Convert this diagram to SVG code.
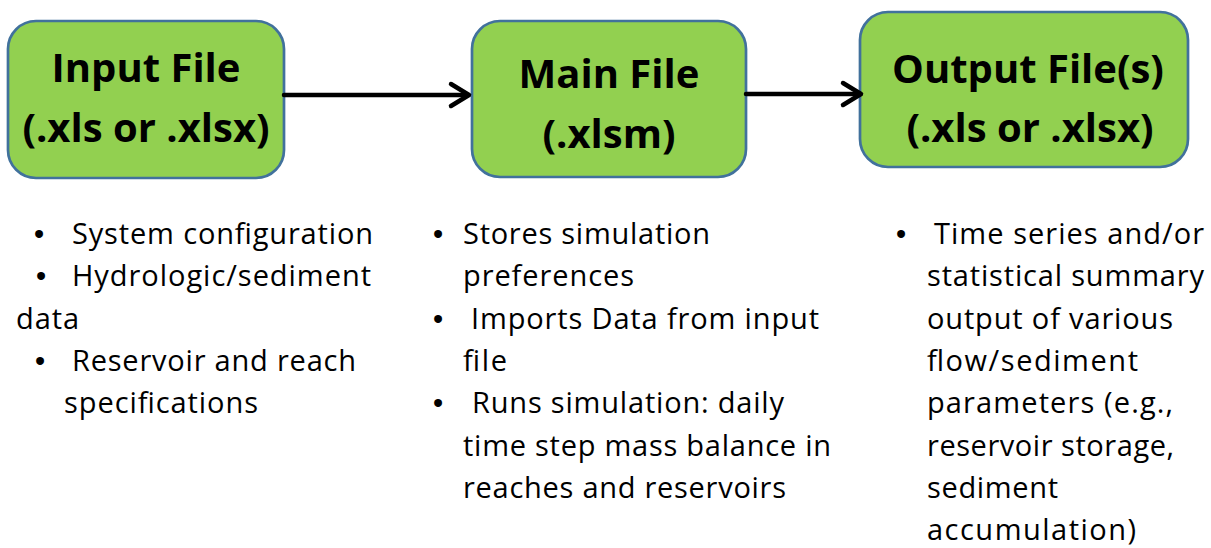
<svg xmlns="http://www.w3.org/2000/svg" width="1211" height="548" viewBox="0 0 1211 548">
<style>
.box{fill:#92d050;stroke:#41719c;stroke-width:2.7}
.title{font-family:"Open Sans","Liberation Sans",sans-serif;font-weight:700;font-size:40px;fill:#000;text-anchor:middle}
.body{font-family:"Open Sans","Liberation Sans",sans-serif;font-size:29px;fill:#000}
.bul{font-family:"Liberation Sans",sans-serif;font-size:29px;fill:#000;text-anchor:middle}
.conn{fill:none;stroke:#000;stroke-width:4.5;stroke-linecap:round;stroke-linejoin:round}
</style>
<rect width="1211" height="548" fill="#fff"/>
<g id="node-input">
<rect class="box" x="8" y="21" width="276" height="157" rx="28"/>
<text class="title" x="146" y="82">Input File</text>
<text class="title" x="146" y="142">(.xls or .xlsx)</text>
</g>
<g id="node-main">
<rect class="box" x="472" y="21" width="274" height="156" rx="28"/>
<text class="title" x="609" y="88">Main File</text>
<text class="title" x="609" y="148">(.xlsm)</text>
</g>
<g id="node-output">
<rect class="box" x="860" y="12" width="328" height="155" rx="28"/>
<text class="title" x="1028" y="83">Output File(s)</text>
<text class="title" x="1030" y="142">(.xls or .xlsx)</text>
</g>
<g id="connectors">
<path class="conn" d="M284 95 H468"/>
<path class="conn" d="M451 84 L469 95 L451 106"/>
<path class="conn" d="M746 94 H860"/>
<path class="conn" d="M843 83 L861 94 L843 105"/>
</g>
<g id="notes-input">
<text class="bul" x="39" y="244">•</text>
<text class="body" x="72" y="244" textLength="301">System configuration</text>
<text class="bul" x="41" y="286.3">•</text>
<text class="body" x="72" y="286.3" textLength="299">Hydrologic/sediment</text>
<text class="body" x="16" y="328.6" textLength="63">data</text>
<text class="bul" x="40" y="370.9">•</text>
<text class="body" x="72" y="370.9" textLength="284">Reservoir and reach</text>
<text class="body" x="64" y="413.2" textLength="194">specifications</text>
</g>
<g id="notes-main">
<text class="bul" x="438" y="244">•</text>
<text class="body" x="463" y="244" textLength="247">Stores simulation</text>
<text class="body" x="463" y="286.3" textLength="171">preferences</text>
<text class="bul" x="438" y="328.6">•</text>
<text class="body" x="471" y="328.6" textLength="348">Imports Data from input</text>
<text class="body" x="463" y="370.9" textLength="44">file</text>
<text class="bul" x="438" y="413.2">•</text>
<text class="body" x="472" y="413.2" textLength="312">Runs simulation: daily</text>
<text class="body" x="463" y="455.5" textLength="368">time step mass balance in</text>
<text class="body" x="463" y="497.8" textLength="323">reaches and reservoirs</text>
</g>
<g id="notes-output">
<text class="bul" x="901" y="244">•</text>
<text class="body" x="934" y="244" textLength="270">Time series and/or</text>
<text class="body" x="927" y="286.3" textLength="277">statistical summary</text>
<text class="body" x="927" y="328.6" textLength="246">output of various</text>
<text class="body" x="927" y="370.9" textLength="211">flow/sediment</text>
<text class="body" x="927" y="413.2" textLength="246">parameters (e.g.,</text>
<text class="body" x="927" y="455.5" textLength="247">reservoir storage,</text>
<text class="body" x="927" y="497.8" textLength="131">sediment</text>
<text class="body" x="927" y="540.1" textLength="209">accumulation)</text>
</g>
</svg>
